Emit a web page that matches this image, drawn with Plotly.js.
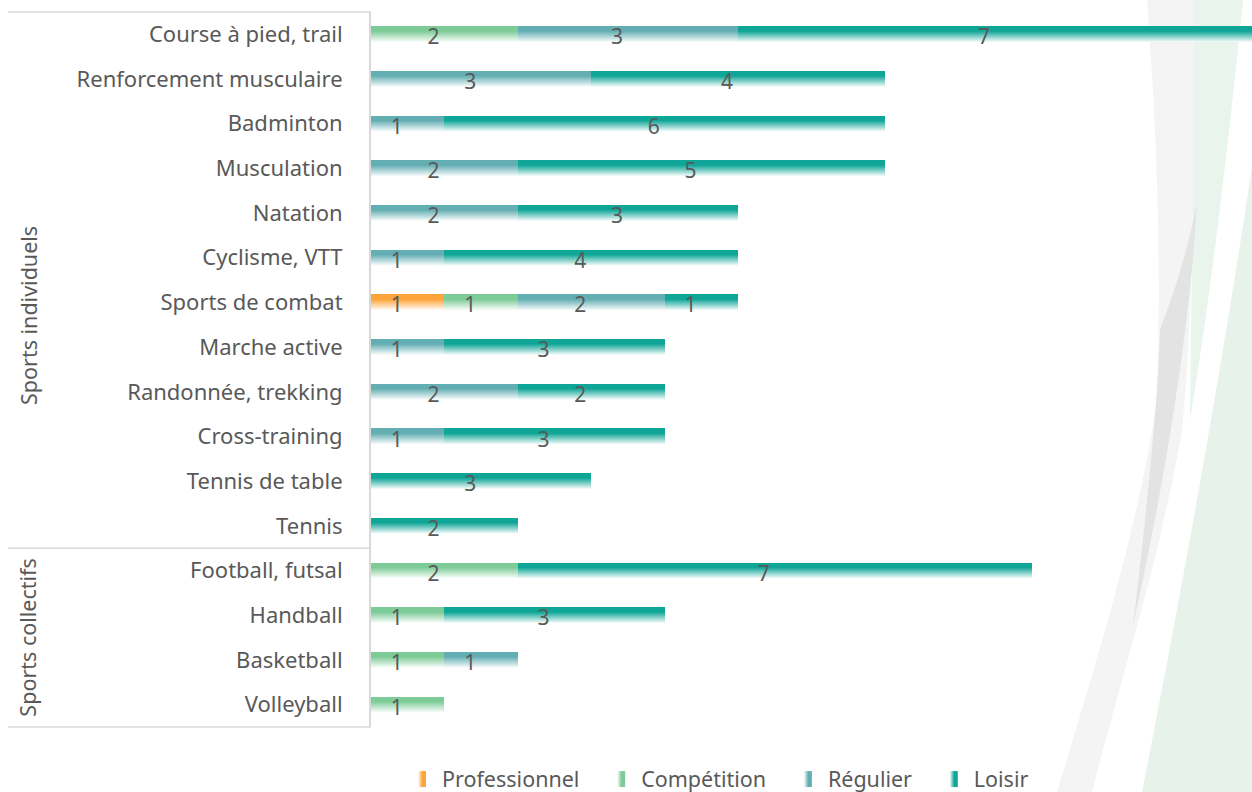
<!DOCTYPE html>
<html>
<head>
<meta charset="utf-8">
<script src="https://cdn.plot.ly/plotly-3.0.1.min.js"></script>
<style>html,body{margin:0;padding:0;background:#fff;}#chart{width:1252px;height:792px;}</style>
</head>
<body>
<div id="chart"></div>
<script>
const categories = ["Course à pied, trail","Renforcement musculaire","Badminton","Musculation","Natation","Cyclisme, VTT","Sports de combat","Marche active","Randonnée, trekking","Cross-training","Tennis de table","Tennis","Football, futsal","Handball","Basketball","Volleyball"];
const seriesNames = ["Professionnel","Compétition","Régulier","Loisir"];
const professionnel = [null,null,null,null,null,null,1,null,null,null,null,null,null,null,null,null];
const competition   = [2,null,null,null,null,null,1,null,null,null,null,null,2,1,1,1];
const regulier      = [3,3,1,2,2,1,2,1,2,1,null,null,null,null,1,null];
const loisir        = [7,4,6,5,3,4,1,3,2,3,3,2,7,3,null,null];
const groups = [{label:"Sports individuels", first:0, last:11},{label:"Sports collectifs", first:12, last:15}];
const colors = ["#FDA43A","#7DCB97","#63AEB3","#0FA597"];

const W=1252,H=792,ML=371,MR=0,MT=12,MB=65;
const PW=W-ML-MR, PH=H-MT-MB;
const px=x=>(x-ML)/PW, py=y=>(H-MB-y)/PH;
const FONT='"Noto Sans", "Open Sans", sans-serif';
const TXT='#595959';

const vals=[professionnel,competition,regulier,loisir];
const traces=vals.map((v,i)=>({
  type:'bar', orientation:'h', name:seriesNames[i]+'\u00a0\u00a0\u00a0', y:categories, x:v,
  marker:{color:colors[i], line:{width:0}},
  text:v.map(a=>a==null?'':String(a)), textposition:'inside', insidetextanchor:'middle', textangle:0,
  constraintext:'none', textfont:{color:TXT,size:21,family:FONT}, hoverinfo:'x+y+name'
}));

function P(pts){
  return pts.replace(/(-?\d+(?:\.\d+)?),(-?\d+(?:\.\d+)?)/g,(m,a,b)=>px(+a).toFixed(5)+','+py(+b).toFixed(5));
}
const shapes=[
  {type:'path',xref:'paper',yref:'paper',layer:'below',line:{width:0},fillcolor:'#e7f3ea',
   path:P('M 1252,167 C 1220,380 1180,600 1142,792 L 1252,792 Z')},
  {type:'path',xref:'paper',yref:'paper',layer:'below',line:{width:0},fillcolor:'#e9f4ec',
   path:P('M 1193,0 L 1243,0 C 1228,150 1210,300 1190,420 C 1192,250 1194,120 1193,0 Z')},
  {type:'path',xref:'paper',yref:'paper',layer:'below',line:{width:0},fillcolor:'#f4f4f4',
   path:P('M 1147,0 L 1193,0 C 1195,200 1192,330 1182,430 C 1160,560 1120,680 1092,792 L 1057,792 C 1100,650 1140,520 1157,400 C 1162,250 1156,120 1147,0 Z')},
  {type:'path',xref:'paper',yref:'paper',layer:'below',line:{width:0},fillcolor:'#e3e3e3',
   path:P('M 1197,202 C 1190,330 1165,480 1133,626 C 1148,500 1158,400 1160,330 C 1175,290 1188,250 1197,202 Z')},
  {type:'line',xref:'paper',yref:'paper',x0:px(8),x1:0,y0:1,y1:1,line:{color:'#d9d9d9',width:1.5}},
  {type:'line',xref:'paper',yref:'paper',x0:px(8),x1:0,y0:0,y1:0,line:{color:'#d9d9d9',width:1.5}}
];
const nCat=categories.length;
groups.slice(1).forEach(g=>{
  const yy=(g.first)/nCat;
  shapes.push({type:'line',xref:'paper',yref:'paper',x0:px(8),x1:0,y0:1-yy,y1:1-yy,line:{color:'#d9d9d9',width:1.5}});
});
const annotations=groups.map((g,i)=>({
  xref:'paper',yref:'paper',x:px(28),y:i==0?py(316):1-((g.first+g.last+1)/2)/nCat,
  text:g.label,textangle:-90,showarrow:false,xanchor:'center',yanchor:'middle',
  font:{family:FONT,size:21.5,color:TXT}
}));

const layout={
  width:W,height:H,margin:{l:ML,r:MR,t:MT,b:MB,pad:0},
  paper_bgcolor:'#ffffff',plot_bgcolor:'rgba(0,0,0,0)',
  barmode:'stack',bargap:0.64,
  font:{family:FONT,color:TXT},
  xaxis:{range:[0,12],visible:false,fixedrange:true},
  yaxis:{type:'category',autorange:'reversed',showline:true,linecolor:'#d9d9d9',linewidth:2,
    ticks:'',showgrid:false,zeroline:false,ticklabelstandoff:22,
    tickfont:{family:FONT,size:22,color:TXT}},
  showlegend:true,
  legend:{orientation:'h',x:px(402),xanchor:'left',y:py(790),yanchor:'bottom',
    font:{family:FONT,size:21.5,color:TXT},traceorder:'normal',itemwidth:30,bgcolor:'rgba(0,0,0,0)'},
  shapes:shapes,annotations:annotations
};

Plotly.newPlot('chart',traces,layout,{displayModeBar:false,staticPlot:true}).then(gd=>{
  const svg=gd.querySelector('.main-svg');
  const ns='http://www.w3.org/2000/svg';
  let defs=svg.querySelector('defs');
  if(!defs){defs=document.createElementNS(ns,'defs');svg.insertBefore(defs,svg.firstChild);}
  colors.forEach((c,i)=>{
    const mk=(id,x2,y2,stops)=>{
      const g=document.createElementNS(ns,'linearGradient');
      g.setAttribute('id',id);g.setAttribute('x1','0');g.setAttribute('y1','0');
      g.setAttribute('x2',x2);g.setAttribute('y2',y2);
      stops.forEach(s=>{const st=document.createElementNS(ns,'stop');st.setAttribute('offset',s[0]);st.setAttribute('stop-color',s[1]);g.appendChild(st);});
      defs.appendChild(g);
    };
    mk('gv'+i,'0','1',[[0,c],[0.3,c],[1,'#ffffff']]);
    mk('gh'+i,'1','0',[[0,'#ffffff'],[0.55,c],[1,c]]);
  });
  gd.querySelectorAll('.barlayer .trace').forEach((t,i)=>{
    t.querySelectorAll('.point path').forEach(p=>{p.style.fill='url(#gv'+i+')';});
    t.querySelectorAll('.point text').forEach(tx=>{
      const tr=tx.getAttribute('transform')||'';
      tx.setAttribute('transform','translate(-11,2) '+tr);
    });
  });
  gd.querySelectorAll('.legend .traces').forEach((t,i)=>{
    t.querySelectorAll('.legendpoints path').forEach(p=>{p.setAttribute('d','M4,8H-4V-8H4Z');p.style.fill='url(#gh'+i+')';});
  });
  const lg=gd.querySelector('.legend');
  const lt=gd.querySelector('.legend .legendtext');
  if(lg&&lt){
    const r=lt.getBoundingClientRect(), top=gd.getBoundingClientRect().top;
    const d=779-((r.top+r.bottom)/2-top);
    const tr=lg.getAttribute('transform')||'';
    lg.setAttribute('transform','translate(0,'+d.toFixed(1)+') '+tr);
  }
});
</script>
</body>
</html>
